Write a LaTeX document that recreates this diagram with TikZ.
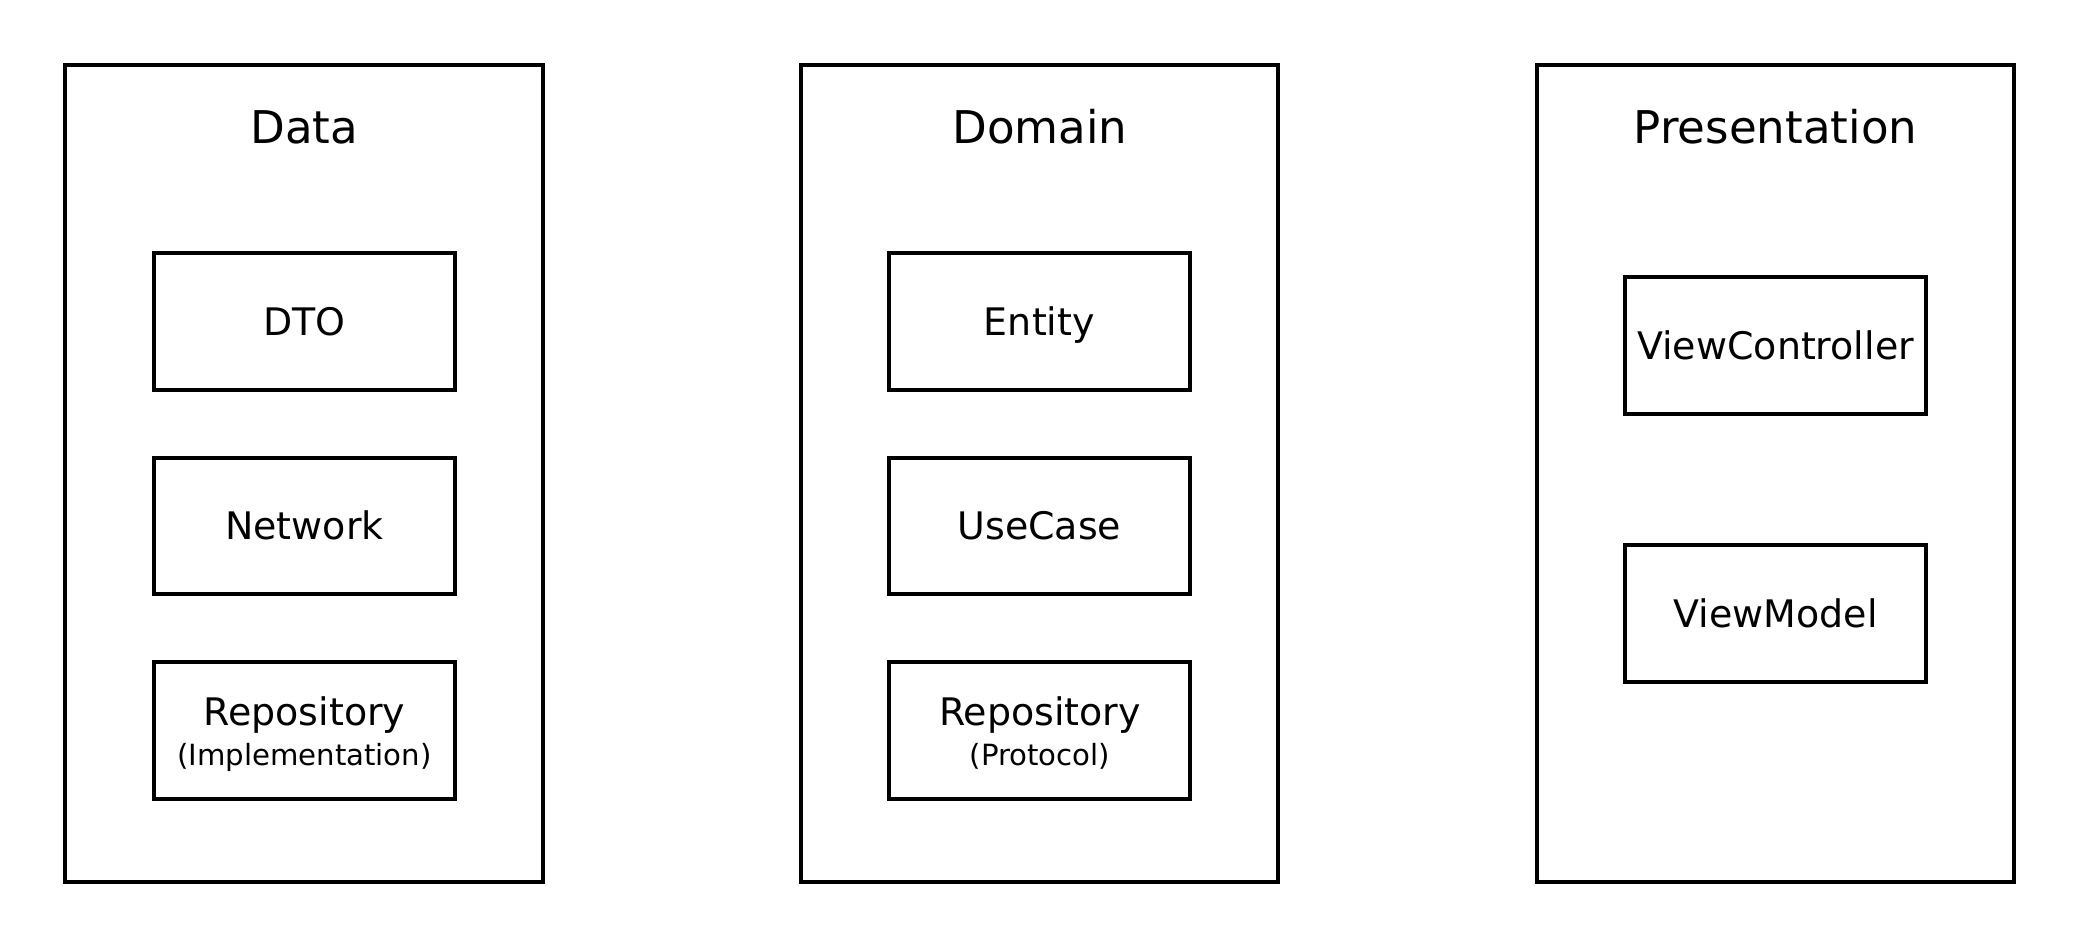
\documentclass[tikz,border=0pt]{standalone}
\usepackage{fontspec}
\setmainfont{DejaVu Sans}
\begin{document}
\begin{tikzpicture}[x=1pt,y=-1pt,
  layer/.style={draw,line width=3pt,minimum width=360pt,minimum height=616pt,inner sep=0pt},
  comp/.style={draw,line width=3pt,minimum width=227pt,minimum height=103pt,inner sep=0pt,align=center,
    text height=20.8pt,text depth=0pt,font=\fontsize{28.6}{32}\selectfont},
  title/.style={font=\fontsize{34}{40}\selectfont,anchor=base,inner sep=0pt},
  mainline/.style={font=\fontsize{28.6}{32}\selectfont,anchor=base,inner sep=0pt},
  subline/.style={font=\fontsize{22}{26}\selectfont,anchor=base,inner sep=0pt}]
\useasboundingbox[fill=white] (0,0) rectangle (1568,714.6);
% layers
\node[layer] (data) at (229,357) {};
\node[layer] (domain) at (783.5,357) {};
\node[layer] (pres) at (1338.5,357) {};
\node[title] (tdata) at (229.5,108) {Data};
\node[title] (tdomain) at (784,108) {Domain};
\node[title] (tpres) at (1338.5,108) {Presentation};
% data
\node[comp] (dto) at (229.5,242.5) {DTO};
\node[comp] (net) at (229.5,396.5) {Network};
\node[comp] (drepo) at (229.5,550.5) {};
\node[mainline] (drepo1) at (229.5,546.6) {Repository};
\node[subline] (drepo2) at (229.5,576.7) {(Implementation)};
% domain
\node[comp] (ent) at (783.5,242.5) {Entity};
\node[comp] (uc) at (783.5,396.5) {UseCase};
\node[comp] (mrepo) at (783.5,550.5) {};
\node[mainline] (mrepo1) at (784,546.6) {Repository};
\node[subline] (mrepo2) at (784,576.7) {(Protocol)};
% presentation
\node[comp] (vc) at (1338.5,260.5) {ViewController};
\node[comp] (vm) at (1338.5,462.5) {ViewModel};
\end{tikzpicture}
\end{document}
